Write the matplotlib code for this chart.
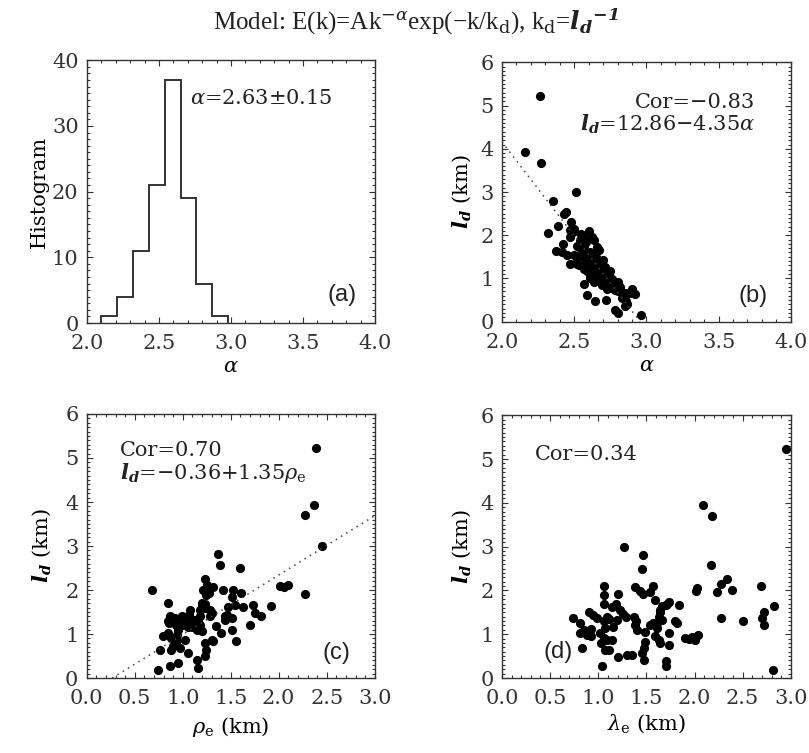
#!/usr/bin/env python3
"""Four-panel l_d / alpha statistics figure (histogram + three scatter plots)."""

import matplotlib

matplotlib.use("Agg")
import matplotlib.pyplot as plt
import numpy as np
from matplotlib.ticker import MultipleLocator, FormatStrFormatter

plt.rcParams.update({
    "font.family": "DejaVu Serif",
    "font.size": 15,
    "mathtext.fontset": "custom",
    "mathtext.rm": "DejaVu Serif",
    "mathtext.it": "DejaVu Serif:italic",
    "mathtext.bf": "DejaVu Serif:italic:bold",
    "axes.linewidth": 1.0,
    "axes.edgecolor": "#333333",
    "text.color": "#222222",
    "xtick.color": "#333333",
    "ytick.color": "#333333",
})

# (a) histogram of alpha
hist_edges = [2.10, 2.21, 2.32, 2.43, 2.54, 2.65, 2.76, 2.87, 2.98]
hist_counts = [1, 4, 11, 21, 37, 19, 6, 1]

# (b) l_d against alpha
alpha_b = [2.26, 2.16, 2.27, 2.51, 2.35, 2.43, 2.445, 2.39, 2.32, 2.47, 2.49, 2.47,
           2.60, 2.565, 2.54, 2.64, 2.376, 2.415, 2.55, 2.61, 2.67, 2.47, 2.52, 2.55,
           2.59, 2.62, 2.66, 2.69, 2.61, 2.645, 2.68, 2.715, 2.59, 2.75, 2.66, 2.70,
           2.74, 2.61, 2.68, 2.715, 2.76, 2.80, 2.725, 2.565, 2.76, 2.82, 2.90, 2.92,
           2.85, 2.78, 2.59, 2.72, 2.645, 2.84, 2.865, 2.78, 2.80, 2.96, 2.57, 2.60,
           2.63, 2.58, 2.62, 2.65, 2.67, 2.70, 2.64, 2.68, 2.72, 2.74, 2.78, 2.70,
           2.66, 2.60, 2.56, 2.52, 2.50, 2.58, 2.62, 2.55, 2.50, 2.48, 2.76, 2.80,
           2.83, 2.73, 2.69, 2.86, 2.88, 2.64, 2.61, 2.57, 2.45, 2.42, 2.66, 2.70,
           2.53, 2.52, 2.85, 2.91]
ld_b = [5.22, 3.92, 3.67, 2.99, 2.79, 2.48, 2.54, 2.22, 2.04, 2.11, 2.07, 1.96,
        2.09, 1.94, 1.88, 1.90, 1.64, 1.61, 1.67, 1.60, 1.66, 1.33, 1.45, 1.52,
        1.45, 1.49, 1.41, 1.33, 1.33, 1.26, 1.22, 1.26, 1.18, 1.18, 1.11, 1.07,
        1.09, 1.00, 1.00, 0.96, 0.98, 0.92, 0.88, 0.88, 0.84, 0.81, 0.75, 0.63,
        0.66, 0.73, 0.62, 0.50, 0.47, 0.58, 0.41, 0.26, 0.20, 0.15, 1.75, 1.55,
        1.58, 1.40, 1.38, 1.50, 1.30, 1.20, 1.15, 1.10, 1.02, 0.95, 0.90, 0.92,
        1.05, 1.25, 1.60, 1.75, 1.55, 1.85, 1.95, 2.02, 2.15, 2.30, 0.78, 0.70,
        0.55, 0.75, 0.85, 0.48, 0.65, 0.92, 1.08, 1.22, 1.55, 1.80, 1.72, 1.42,
        1.30, 1.33, 0.36, 0.66]
fit_b = (12.86, -4.35)

# (c) l_d against rho_e
rho_c = [2.386, 2.365, 2.27, 2.45, 2.275, 2.01, 2.05, 2.10, 1.37, 1.39, 1.60, 0.676,
         0.85, 1.23, 1.255, 1.28, 1.21, 1.27, 1.32, 1.24, 1.415, 1.525, 1.51, 1.61,
         1.075, 1.20, 1.23, 1.28, 1.20, 1.23, 1.18, 0.87, 0.85, 0.92, 0.97, 1.02,
         1.075, 1.13, 1.18, 1.10, 0.99, 0.94, 0.95, 1.145, 1.20, 0.86, 0.87, 0.93,
         1.00, 1.06, 1.11, 0.99, 1.07, 1.13, 1.16, 1.18, 1.28, 1.30, 1.47, 1.54,
         1.63, 1.73, 1.75, 1.82, 1.92, 1.70, 1.44, 1.44, 1.51, 1.55, 1.35, 1.31,
         1.40, 1.46, 1.51, 0.745, 0.87, 0.95, 1.16, 1.145, 1.23, 1.24, 1.05, 0.76,
         0.88, 0.90, 0.97, 1.02, 0.94, 0.79, 0.85, 0.88, 0.94, 1.23, 1.32]
ld_c = [5.23, 3.94, 3.70, 3.00, 1.90, 2.10, 2.06, 2.11, 2.81, 2.57, 2.49, 1.99,
        1.70, 2.24, 2.12, 2.04, 2.00, 1.93, 2.06, 1.89, 1.99, 2.00, 1.85, 1.93,
        1.55, 1.66, 1.59, 1.55, 1.70, 1.69, 1.55, 1.40, 1.29, 1.36, 1.32, 1.25,
        1.36, 1.29, 1.21, 1.17, 1.21, 1.21, 1.10, 1.08, 1.06, 1.25, 1.36, 1.21,
        1.25, 1.17, 1.21, 1.40, 1.44, 1.32, 1.29, 1.40, 1.40, 1.47, 1.62, 1.66,
        1.62, 1.66, 1.47, 1.40, 1.64, 1.21, 1.40, 1.32, 1.10, 0.83, 1.19, 0.86,
        1.02, 1.44, 1.36, 0.18, 0.27, 0.34, 0.23, 0.42, 0.49, 0.64, 0.57, 0.64,
        0.64, 0.72, 0.68, 0.87, 0.87, 0.96, 1.02, 0.91, 0.98, 0.80, 0.83]
fit_c = (-0.36, 1.35)

# (d) l_d against lambda_e
lambda_d = [2.95, 2.09, 2.18, 1.27, 1.46, 1.45, 2.17, 2.34, 2.28, 2.39, 2.23, 2.03,
            2.02, 2.69, 2.83, 2.72, 2.70, 2.72, 2.50, 2.27, 1.84, 1.80, 1.73, 1.66,
            1.64, 1.63, 1.61, 1.59, 1.57, 1.54, 1.38, 1.43, 1.46, 1.06, 1.055, 1.06,
            1.21, 0.74, 0.90, 0.95, 0.99, 1.09, 1.055, 1.14, 1.18, 1.23, 1.26, 1.29,
            1.19, 1.37, 1.39, 0.81, 0.85, 0.92, 0.90, 0.83, 0.81, 0.85, 0.88, 0.92,
            1.04, 1.02, 1.07, 1.055, 1.09, 1.03, 1.07, 1.11, 1.14, 1.21, 1.30, 1.35,
            1.45, 1.47, 1.47, 1.49, 1.38, 1.40, 1.49, 1.54, 1.57, 1.61, 1.59, 1.63,
            1.64, 1.66, 1.64, 1.70, 1.71, 1.74, 1.73, 1.70, 1.70, 1.82, 1.90, 1.94,
            1.97, 2.01, 2.04, 2.82, 1.11, 1.15]
ld_d = [5.23, 3.94, 3.70, 3.00, 2.81, 2.49, 2.57, 2.25, 2.14, 2.00, 1.96, 2.05,
        1.98, 2.10, 1.64, 1.50, 1.38, 1.20, 1.29, 1.38, 1.66, 1.29, 1.74, 1.64,
        1.51, 1.40, 1.25, 1.78, 2.10, 1.96, 2.08, 1.99, 1.91, 2.10, 1.90, 1.70,
        1.91, 1.36, 1.50, 1.44, 1.36, 1.40, 1.29, 1.62, 1.70, 1.55, 1.47, 1.40,
        1.32, 1.40, 1.29, 1.25, 1.10, 1.13, 1.02, 0.68, 1.02, 1.06, 0.98, 0.95,
        0.28, 1.02, 1.14, 0.91, 0.87, 0.80, 0.65, 0.65, 0.87, 0.48, 0.53, 0.53,
        0.57, 0.42, 0.68, 0.83, 1.21, 1.10, 1.06, 1.21, 1.25, 1.14, 0.95, 0.87,
        0.80, 1.32, 1.55, 1.66, 1.70, 1.02, 0.76, 0.38, 0.27, 1.25, 0.91, 0.89,
        0.93, 0.87, 0.98, 0.18, 1.35, 1.17]

LD_LABEL = r"$\mathbf{l_d}$ (km)"
SANS = "Liberation Sans"


def style_axis(ax, xmaj, xmin, ymaj, ymin):
    ax.xaxis.set_major_locator(MultipleLocator(xmaj))
    ax.xaxis.set_minor_locator(MultipleLocator(xmin))
    ax.yaxis.set_major_locator(MultipleLocator(ymaj))
    ax.yaxis.set_minor_locator(MultipleLocator(ymin))
    ax.xaxis.set_major_formatter(FormatStrFormatter("%.1f"))
    ax.tick_params(which="both", direction="in", top=True, right=True, width=0.8)
    ax.tick_params(which="major", length=4.5)
    ax.tick_params(which="minor", length=2.2)
    ax.tick_params(axis="x", which="major", pad=8)
    ax.tick_params(axis="y", which="major", pad=6)


def scatter_panel(ax, x, y):
    ax.plot(x, y, "o", color="black", ms=6.6, mec="none")


fig = plt.figure(figsize=(8.09, 7.53), dpi=100)
ax_a = fig.add_axes([0.1075, 0.571, 0.356, 0.349])
ax_b = fig.add_axes([0.6205, 0.573, 0.357, 0.344])
ax_c = fig.add_axes([0.1072, 0.0996, 0.356, 0.3506])
ax_d = fig.add_axes([0.6205, 0.0996, 0.357, 0.349])

# (a)
ax_a.stairs(hist_counts, hist_edges, color="#333333", lw=1.4, baseline=0)
ax_a.set_xlim(2.0, 4.0)
ax_a.set_ylim(0, 40)
style_axis(ax_a, 0.5, 0.1, 10, 1)
ax_a.set_ylabel("Histogram", va="center")
ax_a.yaxis.set_label_coords(-0.165, 0.5)
ax_a.set_xlabel(r"$\alpha$", va="center")
ax_a.xaxis.set_label_coords(0.5, -0.165)
ax_a.text(0.358, 0.856, r"$\alpha$=2.63±0.15", transform=ax_a.transAxes,
          ha="left", va="center")
ax_a.text(0.884, 0.106, "(a)", transform=ax_a.transAxes, ha="center",
          va="center", family=SANS, fontsize=17)

# (b)
scatter_panel(ax_b, alpha_b, ld_b)
xb = np.array([2.0, -fit_b[0] / fit_b[1]])
ax_b.plot(xb, fit_b[0] + fit_b[1] * xb, ls=(0, (1, 3)), lw=1.1, color="#444444")
ax_b.set_xlim(2.0, 4.0)
ax_b.set_ylim(0, 6)
style_axis(ax_b, 0.5, 0.1, 1, 0.1)
ax_b.set_ylabel(LD_LABEL, va="center")
ax_b.yaxis.set_label_coords(-0.138, 0.5)
ax_b.set_xlabel(r"$\alpha$", va="center")
ax_b.xaxis.set_label_coords(0.5, -0.17)
ax_b.text(0.875, 0.80, "Cor=−0.83\n" + r"$\mathbf{l_d}$=12.86−4.35$\alpha$",
          transform=ax_b.transAxes, ha="right", va="center",
          multialignment="right", linespacing=1.05)
ax_b.text(0.868, 0.098, "(b)", transform=ax_b.transAxes, ha="center",
          va="center", family=SANS, fontsize=17)

# (c)
scatter_panel(ax_c, rho_c, ld_c)
xc = np.array([-fit_c[0] / fit_c[1], 3.0])
ax_c.plot(xc, fit_c[0] + fit_c[1] * xc, ls=(0, (1, 3)), lw=1.1, color="#444444")
ax_c.set_xlim(0.0, 3.0)
ax_c.set_ylim(0, 6)
style_axis(ax_c, 0.5, 0.1, 1, 0.1)
ax_c.set_ylabel(LD_LABEL, va="center")
ax_c.yaxis.set_label_coords(-0.155, 0.5)
ax_c.set_xlabel(r"$\rho_\mathrm{e}$ (km)", va="center")
ax_c.xaxis.set_label_coords(0.5, -0.185)
ax_c.text(0.115, 0.815, "Cor=0.70\n" + r"$\mathbf{l_d}$=−0.36+1.35$\rho_\mathrm{e}$",
          transform=ax_c.transAxes, ha="left", va="center",
          multialignment="left", linespacing=1.05)
ax_c.text(0.867, 0.094, "(c)", transform=ax_c.transAxes, ha="center",
          va="center", family=SANS, fontsize=17)

# (d)
scatter_panel(ax_d, lambda_d, ld_d)
ax_d.set_xlim(0.0, 3.0)
ax_d.set_ylim(0, 6)
style_axis(ax_d, 0.5, 0.1, 1, 0.1)
ax_d.set_ylabel(LD_LABEL, va="center")
ax_d.yaxis.set_label_coords(-0.138, 0.5)
ax_d.set_xlabel(r"$\lambda_\mathrm{e}$ (km)", va="center")
ax_d.xaxis.set_label_coords(0.5, -0.175)
ax_d.text(0.115, 0.852, "Cor=0.34", transform=ax_d.transAxes, ha="left", va="center")
ax_d.text(0.196, 0.10, "(d)", transform=ax_d.transAxes, ha="center",
          va="center", family=SANS, fontsize=17)

fig.text(0.514, 0.971,
         r"Model: E(k)=Ak$^{-\alpha}$exp(−k/k$_\mathrm{d}$), k$_\mathrm{d}$=$\mathbf{l_d}^{\mathbf{-1}}$",
         ha="center", va="center", family="Liberation Serif", fontsize=18)

fig.savefig("out.png", dpi=100)
